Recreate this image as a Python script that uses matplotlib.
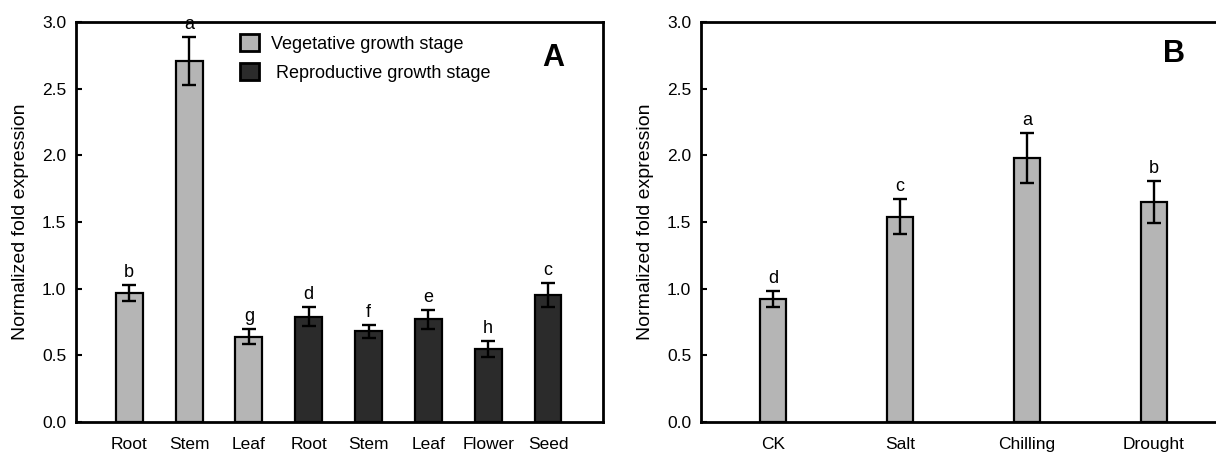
import matplotlib.pyplot as plt
from matplotlib.patches import Patch
import numpy as np

plt.rcParams['font.family'] = ['Liberation Sans', 'DejaVu Sans']

# Panel A: tissues at two growth stages
tissues = ['Root', 'Stem', 'Leaf', 'Root', 'Stem', 'Leaf', 'Flower', 'Seed']
expr_A = [0.97, 2.71, 0.64, 0.79, 0.68, 0.77, 0.55, 0.95]
err_A = [0.06, 0.18, 0.055, 0.07, 0.05, 0.07, 0.06, 0.09]
sig_A = ['b', 'a', 'g', 'd', 'f', 'e', 'h', 'c']
stage_A = ['veg', 'veg', 'veg', 'rep', 'rep', 'rep', 'rep', 'rep']

# Panel B: abiotic stress treatments
treatments = ['CK', 'Salt', 'Chilling', 'Drought']
expr_B = [0.92, 1.54, 1.98, 1.65]
err_B = [0.06, 0.13, 0.19, 0.155]
sig_B = ['d', 'c', 'a', 'b']

light = '#b5b5b5'
dark = '#2b2b2b'
stage_colors = {'veg': light, 'rep': dark}

W, H = 12.16, 4.54
fig = plt.figure(figsize=(W, H), dpi=100)


def px_axes(left, right, top, bottom):
    # axes rectangle given in pixel coordinates (origin top-left)
    return fig.add_axes([left / 1216, 1 - bottom / 454, (right - left) / 1216, (bottom - top) / 454])


def style_axes(ax):
    for s in ax.spines.values():
        s.set_linewidth(2.0)
    ax.set_ylim(0, 3.0)
    ax.set_yticks(np.arange(0, 3.01, 0.5))
    ax.yaxis.set_major_formatter(plt.FormatStrFormatter('%.1f'))
    ax.tick_params(axis='y', direction='in', length=4, width=1.5, pad=7, labelsize=12.5)
    ax.tick_params(axis='x', length=0, pad=11, labelsize=12.5)
    ax.set_ylabel('Normalized fold expression', fontsize=14, labelpad=9)


def draw_bars(ax, x, vals, errs, colors, width, letters):
    ax.bar(x, vals, width=width, color=colors, edgecolor='black', linewidth=1.6, zorder=2)
    ax.errorbar(x, vals, yerr=errs, fmt='none', ecolor='black', elinewidth=1.7,
                capsize=5, capthick=1.7, zorder=3)
    for xi, v, e, t in zip(x, vals, errs, letters):
        ax.text(xi, v + e + 0.03, t, ha='center', va='bottom', fontsize=13)


# --- A ---
axA = px_axes(76, 603, 22, 422)
xA = np.arange(len(tissues))
draw_bars(axA, xA, expr_A, err_A, [stage_colors[s] for s in stage_A], 0.45, sig_A)
axA.set_xlim(-0.89, 7.92)
axA.set_xticks(xA)
axA.set_xticklabels(tissues)
style_axes(axA)
handles = [Patch(facecolor=light, edgecolor='black', linewidth=2),
           Patch(facecolor=dark, edgecolor='black', linewidth=2)]
axA.legend(handles, ['Vegetative growth stage', ' Reproductive growth stage'],
           loc='upper left', bbox_to_anchor=(0.311, 0.97), frameon=False, fontsize=13,
           borderpad=0, borderaxespad=0, handlelength=1.05, handleheight=1.05,
           handletextpad=0.7, labelspacing=0.6)
axA.text(0.905, 0.91, 'A', transform=axA.transAxes, ha='center', va='center',
         fontsize=22, fontweight='bold')

# --- B ---
axB = px_axes(701, 1226, 22, 422)
xB = np.arange(len(treatments))
draw_bars(axB, xB, expr_B, err_B, [light] * len(treatments), 0.205, sig_B)
axB.set_xlim(-0.567, 3.567)
axB.set_xticks(xB)
axB.set_xticklabels(treatments)
style_axes(axB)
axB.text(0.901, 0.92, 'B', transform=axB.transAxes, ha='center', va='center',
         fontsize=22, fontweight='bold')

fig.savefig('out.png', dpi=100)
